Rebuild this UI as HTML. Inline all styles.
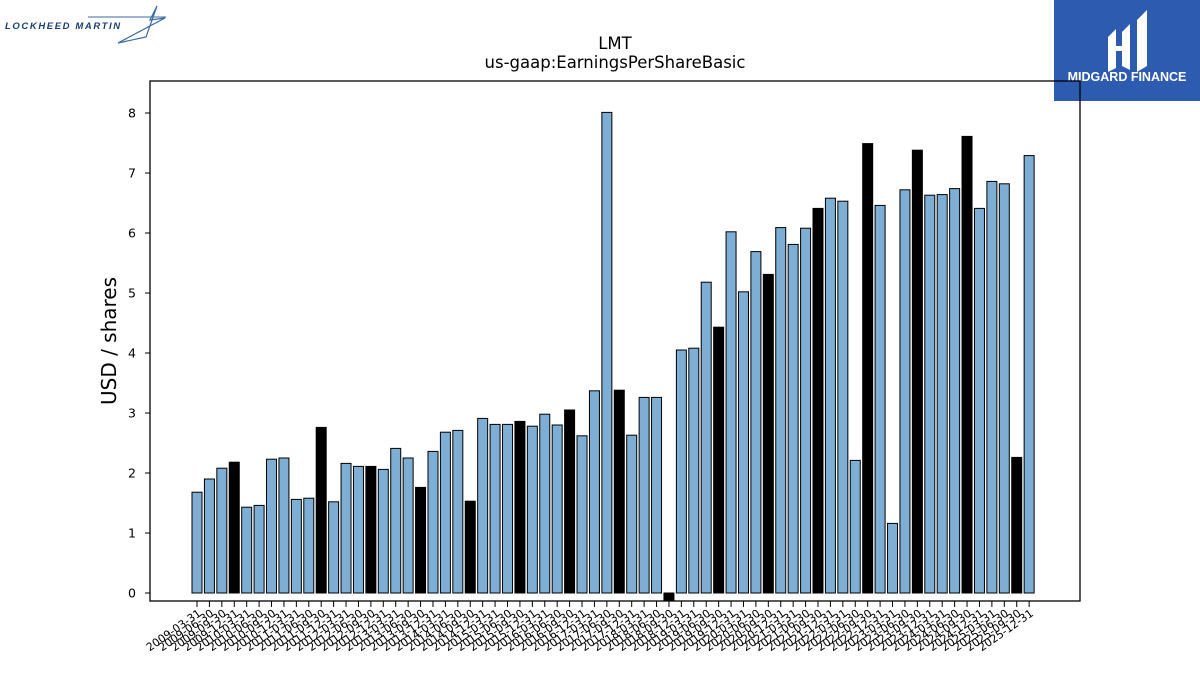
<!DOCTYPE html>
<html><head><meta charset="utf-8"><style>
body{margin:0;background:#fff;width:1200px;height:675px;overflow:hidden;font-family:"Liberation Sans","DejaVu Sans",sans-serif;}
</style></head><body>
<svg id="chart" width="1200" height="675" xmlns="http://www.w3.org/2000/svg" font-family="DejaVu Sans, Liberation Sans, sans-serif">
<g>
<text x="5" y="29" font-size="9.5" font-weight="bold" font-style="italic" fill="#1b3f73" letter-spacing="1.6" font-family="Liberation Sans, sans-serif">LOCKHEED MARTIN</text>
<path d="M118 43 L165 18 L150 20 L157 6 L146 37 Z" fill="none" stroke="#3a6aa0" stroke-width="1.2"/>
<path d="M88 17 L166 17" stroke="#3a6aa0" stroke-width="1"/>
</g>
<g>
<rect x="1054" y="0" width="146" height="101" fill="#2d5bb0"/>
<path d="M1108 37 L1116 29 L1116 68 L1108 72 Z M1122 32 L1130 24 L1130 70 L1122 66 Z M1137 20 L1147 10 L1147 66 L1137 72 Z M1116 46 L1130 46 L1130 51 L1116 51 Z" fill="#fff"/>
<text x="1127" y="81" font-size="12.5" font-weight="bold" fill="#fff" text-anchor="middle" font-family="Liberation Sans, sans-serif">MIDGARD FINANCE</text>
</g>
<text x="615" y="49" font-size="16.5" text-anchor="middle">LMT</text>
<text x="615" y="68" font-size="16.5" text-anchor="middle">us-gaap:EarningsPerShareBasic</text>
<text transform="translate(116,341) rotate(-90)" font-size="20" text-anchor="middle">USD / shares</text>
<g id="bars"></g><g id="axes"></g>
</svg>
<script>
const values=[1.68,1.9,2.08,2.18,1.43,1.46,2.23,2.25,1.56,1.58,2.76,1.52,2.16,2.11,2.11,2.06,2.41,2.25,1.76,2.36,2.68,2.71,1.53,2.91,2.81,2.81,2.86,2.78,2.98,2.8,3.05,2.62,3.37,8.01,3.38,2.63,3.26,3.26,-0.13,4.05,4.08,5.18,4.43,6.02,5.02,5.69,5.31,6.09,5.81,6.08,6.41,6.58,6.53,2.21,7.49,6.46,1.16,6.72,7.38,6.63,6.64,6.74,7.61,6.41,6.86,6.82,2.26,7.29];
const annual=[0,0,0,1,0,0,0,0,0,0,1,0,0,0,1,0,0,0,1,0,0,0,1,0,0,0,1,0,0,0,1,0,0,0,1,0,0,0,1,0,0,0,1,0,0,0,1,0,0,0,1,0,0,0,1,0,0,0,1,0,0,0,1,0,0,0,1,0];
const yTicks=[0,1,2,3,4,5,6,7,8];
const ends=["03-31","06-30","09-30","12-31"];
const categories=[];
for(let y=2009;y<=2025;y++)for(const e of ends)categories.push(y+"-"+e);
const NS="http://www.w3.org/2000/svg";
const L=150,R=1080,T=81,B=601;
const x0=197,step=12.42;
const xS=i=>x0+i*step;
const yS=v=>593-v*60;
function mk(t,a,p){const e=document.createElementNS(NS,t);for(const k in a)e.setAttribute(k,a[k]);p.appendChild(e);return e;}
const bars=document.getElementById('bars'),axes=document.getElementById('axes');
values.forEach((v,i)=>{
 const y1=yS(Math.max(v,0)),y2=yS(Math.min(v,0));
 const r=mk('rect',{x:xS(i)-5,y:y1,width:10,height:Math.max(y2-y1,0.5),fill:annual[i]?'#000':'#7eaed3',stroke:'#000','stroke-width':1},bars);
 
 
});
const frame=mk('rect',{x:L,y:T,width:R-L,height:B-T,fill:'none',stroke:'#000','stroke-width':1.3},axes);


yTicks.forEach(t=>{
 mk('line',{x1:L-5,x2:L,y1:yS(t),y2:yS(t),stroke:'#000'},axes);
 const tx=mk('text',{x:L-14,y:yS(t)+4.5,'font-size':12.5,'text-anchor':'end'},axes);
 tx.textContent=t;
 
 
});
categories.forEach((c,i)=>{
 const x=xS(i);
 mk('line',{x1:x,x2:x,y1:B,y2:B+6,stroke:'#000'},axes);
 const tx=mk('text',{transform:`translate(${x+5},${B+14}) rotate(-35)`,'font-size':11,'text-anchor':'end'},axes);
 tx.textContent=c;
 
 
});
</script>
</body></html>
